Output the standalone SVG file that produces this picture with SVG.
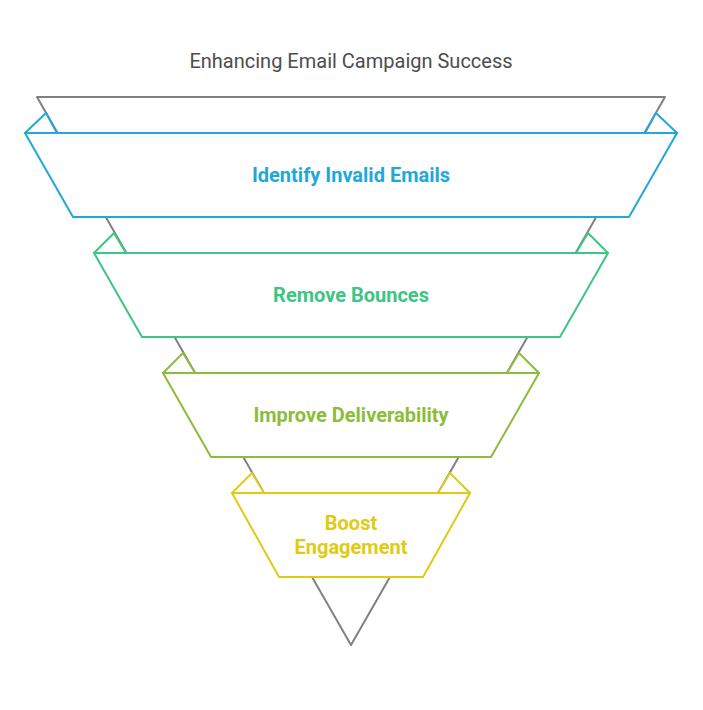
<svg xmlns="http://www.w3.org/2000/svg" width="703" height="710" viewBox="0 0 703 710">
<style>
.band{fill:#ffffff;stroke-width:2;stroke-linejoin:round}
.fold{fill:#ffffff;stroke-width:2;stroke-linejoin:round}
.lbl{font-family:Roboto,"Liberation Sans",sans-serif;font-weight:700;font-size:20px;text-anchor:middle}
.c1{stroke:#21A8D8}.t1{fill:#21A8D8}
.c2{stroke:#3CC583}.t2{fill:#3CC583}
.c3{stroke:#8DBC3B}.t3{fill:#8DBC3B}
.c4{stroke:#E0CA14}.t4{fill:#E0CA14}
</style>
<rect width="703" height="710" fill="#ffffff"/>
<text x="351" y="68" font-family="Roboto,'Liberation Sans',sans-serif" font-size="20" fill="#4D4D4D" text-anchor="middle">Enhancing Email Campaign Success</text>
<g id="connectors">
<path d="M37,97 L665,97 L351,645 Z" fill="none" stroke="#808080" stroke-width="2" stroke-linejoin="round"/>
</g>
<g id="node1">
<path class="band c1" d="M25,133 L677,133 L629,217 L73,217 Z"/>
<path class="fold c1" d="M25,133 L46,113 L57,133 Z"/>
<path class="fold c1" d="M677,133 L656,113 L645,133 Z"/>
<text class="lbl t1" x="351" y="182">Identify Invalid Emails</text>
</g>
<g id="node2">
<path class="band c2" d="M94,253 L608,253 L560,337 L142,337 Z"/>
<path class="fold c2" d="M94,253 L114,233 L126,253 Z"/>
<path class="fold c2" d="M608,253 L588,233 L576,253 Z"/>
<text class="lbl t2" x="351" y="302">Remove Bounces</text>
</g>
<g id="node3">
<path class="band c3" d="M163,373 L539,373 L491,457 L211,457 Z"/>
<path class="fold c3" d="M163,373 L183,353 L195,373 Z"/>
<path class="fold c3" d="M539,373 L519,353 L507,373 Z"/>
<text class="lbl t3" x="351" y="422">Improve Deliverability</text>
</g>
<g id="node4">
<path class="band c4" d="M232,493 L470,493 L423,577 L279,577 Z"/>
<path class="fold c4" d="M232,493 L252,473 L264,493 Z"/>
<path class="fold c4" d="M470,493 L450,473 L438,493 Z"/>
<text class="lbl t4" x="351" y="530">Boost</text>
<text class="lbl t4" x="351" y="554">Engagement</text>
</g>
</svg>
